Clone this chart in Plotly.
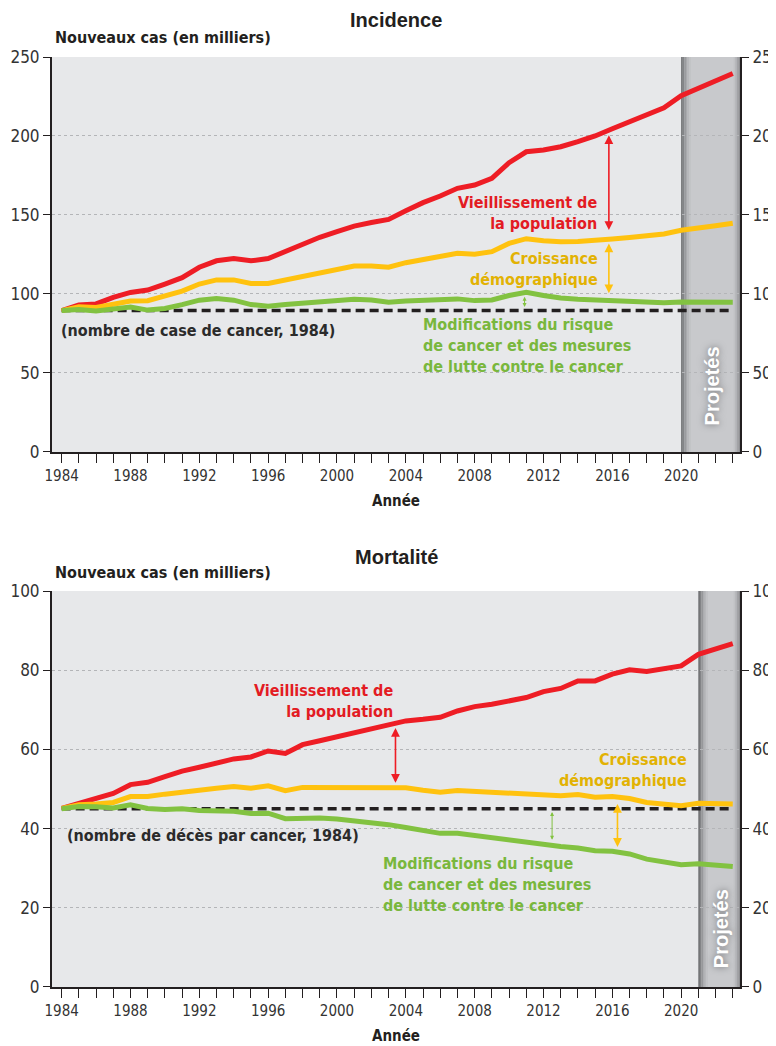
import plotly.graph_objects as go

# ---- data (thousands) ----
YEARS = [1984, 1985, 1986, 1987, 1988, 1989, 1990, 1991, 1992, 1993,
         1994, 1995, 1996, 1997, 1998, 1999, 2000, 2001, 2002, 2003,
         2004, 2005, 2006, 2007, 2008, 2009, 2010, 2011, 2012, 2013,
         2014, 2015, 2016, 2017, 2018, 2019, 2020, 2021, 2022, 2023]

INC_AGEING = [89.5, 93.0, 93.7, 97.9, 101.0, 102.5, 106.3, 110.3, 116.9, 121.0,
              122.4, 121.0, 122.4, 126.8, 131.0, 135.9, 139.4, 143.0, 145.2, 147.2,
              152.7, 157.8, 162.0, 166.9, 169.0, 173.2, 183.1, 190.0, 191.2, 193.2,
              196.4, 200.0, 204.6, 209.0, 213.3, 217.9, 225.5, 230.2, 234.8, 239.6]
INC_GROWTH = [89.5, 91.9, 91.5, 93.6, 95.5, 95.7, 98.6, 101.8, 106.3, 108.9,
              108.9, 106.7, 106.7, 108.9, 111.5, 114.1, 116.2, 117.7, 117.7, 116.9,
              119.8, 121.9, 123.6, 125.8, 125.1, 126.8, 132.0, 135.0, 133.7, 133.0,
              133.2, 133.8, 134.8, 135.8, 137.0, 138.0, 140.3, 141.5, 143.2, 144.8]
INC_RISK = [89.5, 90.2, 89.2, 90.8, 91.7, 89.8, 90.8, 93.3, 96.1, 97.2,
            96.1, 93.3, 92.3, 93.3, 94.2, 95.2, 96.2, 96.7, 96.2, 94.8,
            95.6, 96.2, 96.9, 96.9, 95.8, 96.2, 99.0, 101.0, 99.0, 97.4,
            96.7, 96.2, 95.8, 95.6, 95.2, 94.5, 95.0, 95.0, 95.0, 94.8]
INC_BASE = 89.5

MORT_AGEING = [45.1, 46.4, 47.5, 48.9, 51.1, 51.7, 53.1, 54.5, 55.5, 56.7,
               57.6, 58.1, 59.6, 59.0, 61.2, 62.2, 63.2, 64.2, 65.1, 65.9,
               67.2, 67.6, 68.1, 69.7, 70.8, 71.4, 72.3, 73.1, 74.6, 75.4,
               77.3, 77.3, 79.0, 80.1, 79.7, 80.3, 81.1, 84.0, 85.3, 86.7]
MORT_GROWTH = [45.1, 46.0, 46.2, 46.6, 48.1, 48.1, 48.7, 49.3, 49.6, 50.2,
               50.6, 50.2, 50.8, 49.6, 50.4, 50.4, 50.4, 50.4, 50.6, 50.4,
               50.3, 49.7, 49.2, 49.6, 49.4, 49.0, 48.7, 48.5, 48.6, 48.3,
               48.6, 47.9, 48.1, 47.6, 46.6, 46.2, 45.8, 46.4, 46.4, 46.2]
MORT_RISK = [45.0, 45.6, 45.5, 45.2, 46.0, 45.1, 44.8, 45.0, 44.6, 44.6,
             44.4, 43.8, 43.9, 42.5, 42.7, 42.7, 42.4, 42.0, 41.6, 41.0,
             40.3, 39.7, 38.8, 38.8, 38.2, 37.6, 37.0, 36.4, 36.1, 35.5,
             35.1, 34.4, 34.3, 33.6, 32.3, 31.5, 30.9, 31.1, 30.8, 30.4]
MORT_BASE = 45.0

INC_PROJ_START = 2020
MORT_PROJ_START = 2021

RED = "#ee1d25"
YELLOW = "#ffc20f"
GREEN = "#82c241"
RED_TXT = "#e31b23"
YELLOW_TXT = "#e2b203"
GREEN_TXT = "#79b73d"
DARK = "#231f20"

NARROW = "Liberation Sans Narrow, Arial Narrow, DejaVu Sans Condensed, sans-serif"
SANS = "Liberation Sans, Arial, sans-serif"
X_RANGE = [1983.44, 2023.42]

fig = go.Figure()


def add_panel(xa, ya, yr, ageing, growth, risk, base):
    fig.add_trace(go.Scatter(x=[YEARS[0], YEARS[-1]], y=[base, base], mode="lines",
                             line=dict(color=DARK, width=3.5, dash="9px,5px"),
                             xaxis=xa, yaxis=ya, showlegend=False, hoverinfo="skip"))
    for vals, col in [(ageing, RED), (growth, YELLOW), (risk, GREEN)]:
        fig.add_trace(go.Scatter(x=YEARS, y=vals, mode="lines",
                                 line=dict(color=col, width=5),
                                 xaxis=xa, yaxis=ya, showlegend=False))
    # invisible trace so the right-hand axis is drawn
    fig.add_trace(go.Scatter(x=[YEARS[0]], y=[yr[0]], mode="markers", opacity=0,
                             xaxis=xa, yaxis="y3" if ya == "y" else "y4",
                             showlegend=False, hoverinfo="skip"))


def add_projection(xref, yref, x0, x1):
    px = 1 / 17.21  # one pixel in years
    fig.add_shape(type="rect", xref=xref, yref=yref + " domain", x0=x0, x1=x1, y0=0, y1=1,
                  fillcolor="#c8c9cc", line_width=0, layer="below")
    left = ["#6f7073", "#838487", "#97989b", "#a9aaad", "#b7b8bb", "#c1c2c5"]
    for i, c in enumerate(left):
        fig.add_shape(type="rect", xref=xref, yref=yref + " domain",
                      x0=x0 + i * 1.6 * px, x1=x0 + (i + 1) * 1.6 * px, y0=0, y1=1,
                      fillcolor=c, line_width=0, layer="below")
    right = ["#c1c2c5", "#b3b4b7", "#a2a3a6", "#8f9093"]
    for i, c in enumerate(right):
        fig.add_shape(type="rect", xref=xref, yref=yref + " domain",
                      x0=x1 - (len(right) - i) * 1.6 * px, x1=x1 - (len(right) - i - 1) * 1.6 * px,
                      y0=0, y1=1, fillcolor=c, line_width=0, layer="below")


def arrow(xref, yref, x, y0, y1, color, width=1.6, size=1.1):
    fig.add_annotation(x=x, y=y1, ax=x, ay=y0, xref=xref, yref=yref, axref=xref, ayref=yref,
                       text="", showarrow=True, arrowhead=2, arrowside="end+start",
                       arrowsize=size, arrowwidth=width, arrowcolor=color)


def label(xref, yref, x, y, text, color, xanchor, size=16):
    fig.add_annotation(x=x, y=y, xref=xref, yref=yref, text=text, showarrow=False,
                       xanchor=xanchor, yanchor="middle", align=xanchor,
                       font=dict(family=NARROW, size=size, color=color, weight="bold"))


add_panel("x", "y", [0, 250], INC_AGEING, INC_GROWTH, INC_RISK, INC_BASE)
add_panel("x2", "y2", [0, 100], MORT_AGEING, MORT_GROWTH, MORT_RISK, MORT_BASE)

add_projection("x", "y", INC_PROJ_START, X_RANGE[1])
add_projection("x2", "y2", MORT_PROJ_START, X_RANGE[1])

# incidence annotations
arrow("x", "y", 2015.8, 139.5, 200.5, RED)
arrow("x", "y", 2015.8, 99.5, 132.0, YELLOW)
arrow("x", "y", 2010.9, 90.8, 98.2, GREEN, width=1.0, size=0.8)
label("x", "y", 2015.2, 151.3, "Vieillissement de<br>la population", RED_TXT, "right")
label("x", "y", 2015.3, 115.5, "Croissance<br>démographique", YELLOW_TXT, "right")
label("x", "y", 2004.9, 67.7,
      "Modifications du risque<br>de cancer et des mesures<br>de lutte contre le cancer",
      GREEN_TXT, "left")
label("x", "y", 1983.86, 77.2, "(nombre de case de cancer, 1984)", "#2b2b2b", "left")

# mortality annotations
arrow("x2", "y2", 2003.4, 51.2, 65.4, RED)
arrow("x2", "y2", 2016.3, 35.0, 46.2, YELLOW)
arrow("x2", "y2", 2012.5, 36.8, 44.2, GREEN, width=1.0, size=0.8)
label("x2", "y2", 2003.4, 72.3, "Vieillissement de<br>la population", RED_TXT, "right")
label("x2", "y2", 2020.45, 54.9, "Croissance<br>démographique", YELLOW_TXT, "right")
label("x2", "y2", 2002.55, 25.8,
      "Modifications du risque<br>de cancer et des mesures<br>de lutte contre le cancer",
      GREEN_TXT, "left")
label("x2", "y2", 1984.2, 38.2, "(nombre de décès par cancer, 1984)", "#2b2b2b", "left")

for xref, yref, x, y in [("x", "y", 2021.77, 41.9), ("x2", "y2", 2022.36, 14.8)]:
    fig.add_annotation(x=x, y=y, xref=xref, yref=yref, text="Projetés", showarrow=False,
                       textangle=-90,
                       font=dict(family=SANS, size=20, color="white", weight="bold",
                                 shadow="0px 0px 7px #6d6e71"))

# titles
for yp, title in [(1.0398, "Incidence"), (0.4624, "Mortalité")]:
    fig.add_annotation(x=0.5, y=yp, xref="paper", yref="paper", text=title, showarrow=False,
                       xanchor="center", yanchor="middle",
                       font=dict(family=SANS, size=20, color=DARK, weight="bold"))
for yp in [1.0215, 0.4452]:
    fig.add_annotation(x=0.001, y=yp, xref="paper", yref="paper",
                       text="Nouveaux cas (en milliers)", showarrow=False,
                       xanchor="left", yanchor="middle",
                       font=dict(family=NARROW, size=16, color=DARK, weight="bold"))
for yp in [0.5226, -0.0527]:
    fig.add_annotation(x=0.5, y=yp, xref="paper", yref="paper", text="Année", showarrow=False,
                       xanchor="center", yanchor="middle",
                       font=dict(family=NARROW, size=15, color=DARK, weight="bold"))

xaxis_style = dict(range=X_RANGE, tick0=1984, dtick=4, ticks="outside", ticklen=9,
                   tickwidth=1.2, tickcolor=DARK, showline=True, linecolor=DARK, linewidth=2,
                   showgrid=False, zeroline=False, automargin=False,
                   minor=dict(dtick=1, tick0=1984, ticks="outside", ticklen=9,
                              tickwidth=1.2, tickcolor=DARK, showgrid=False),
                   tickfont=dict(family=NARROW, size=15, color="#333333"))


def yaxis_style(rng, dt, domain, side="left"):
    return dict(range=rng, dtick=dt, domain=domain, ticks="outside", ticklen=7, tickwidth=1.2,
                tickcolor=DARK, showline=True, linecolor=DARK, linewidth=2, zeroline=False,
                side=side, showgrid=(side == "left"), gridcolor="#b4b5b8", griddash="dot",
                gridwidth=1, automargin=False,
                tickfont=dict(family=NARROW, size=17, color="#333333"))


# the page has an 8px body margin, so the figure is drawn 8px smaller
fig.update_layout(
    width=768, height=1038,
    margin=dict(l=44, r=36, t=49, b=59),
    paper_bgcolor="white", plot_bgcolor="#e7e8ea",
    showlegend=False,
    xaxis=dict(anchor="y", domain=[0, 1], **xaxis_style),
    xaxis2=dict(anchor="y2", domain=[0, 1], **xaxis_style),
    yaxis=dict(anchor="x", **yaxis_style([0, 250], 50, [0.5753, 1])),
    yaxis2=dict(anchor="x2", **yaxis_style([0, 100], 20, [0, 0.4258])),
    yaxis3=dict(anchor="x", overlaying="y", **yaxis_style([0, 250], 50, [0.5753, 1], "right")),
    yaxis4=dict(anchor="x2", overlaying="y2", **yaxis_style([0, 100], 20, [0, 0.4258], "right")),
)

fig.write_html("out.html")
